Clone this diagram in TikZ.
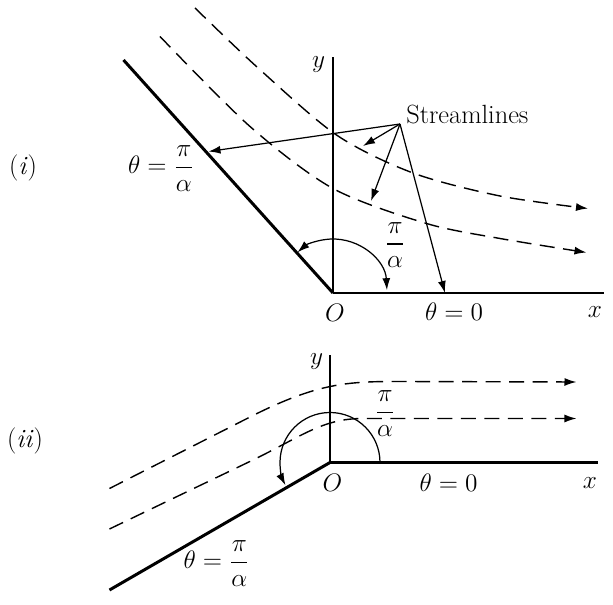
\documentclass[tikz,border=0pt]{standalone}
\usepackage{amsmath,amssymb}
\usepackage{tikz}
\usetikzlibrary{arrows.meta,positioning,calc}
\begin{document}
\begin{tikzpicture}[>={Latex[length=2.4mm,width=1.6mm]},font=\fontsize{15}{18}\selectfont,
  wall/.style={line width=1.7pt},
  thin/.style={line width=0.7pt},
  flow/.style={line width=0.8pt,dash pattern=on 3mm off 1.7mm,->},
  lbl/.style={inner sep=1pt}]
\useasboundingbox (-6.66,5.86) rectangle (5.6,-6.24);
% ---- (i): wedge of angle pi/alpha ----
\coordinate (O1) at (0,0);
\coordinate (X1) at (5.42,0);
\coordinate (Y1) at (0,4.72);
\coordinate (W1) at (-4.19,4.66);
\draw[thin] (O1) -- (Y1);
\draw[wall] (W1) -- (O1);
\draw[wall,line width=1.4pt] (O1) -- (X1);
\draw[flow] plot[smooth] coordinates {(-2.76,5.7) (-1.52,4.52) (0.07,3.16) (1.6,2.4) (3.34,1.94) (5.1,1.69)};
\draw[flow] plot[smooth] coordinates {(-3.46,5.13) (-1.66,3.33) (0,2.09) (1.87,1.39) (3.34,1.09) (5.07,0.81)};
\draw[thin,<->] ($(O1)+(3:1.08)$) arc[start angle=3,end angle=131,radius=1.08];
\node[lbl] (i) at (-6.2,2.5) {(\textit{i})};
\node[lbl] (y1) at (-0.29,4.56) {$y$};
\node[lbl] (o1) at (0.04,-0.4) {$O$};
\node[lbl] (zero1) at (2.42,-0.38) {$\theta=0$};
\node[lbl] (x1) at (5.24,-0.38) {$x$};
\node[lbl] (wedge1) at (-3.44,2.49) {$\theta=\dfrac{\pi}{\alpha}$};
\node[lbl] (ang1) at (1.24,0.96) {$\dfrac{\pi}{\alpha}$};
% streamline pointers
\coordinate (S) at (1.34,3.38);
\node[anchor=base west,inner sep=0pt] (stream) at (1.46,3.38) {Streamlines};
\coordinate (s1) at (-2.49,2.83);
\coordinate (s2) at (0.6,2.94);
\coordinate (s3) at (0.76,1.84);
\coordinate (s4) at (2.24,0);
\foreach \t in {s1,s2,s3,s4} \draw[thin,->] (S) -- (\t);
% ---- (ii): wedge opened past pi ----
\coordinate (O2) at (-0.06,-3.39);
\coordinate (X2) at (5.31,-3.39);
\coordinate (Y2) at (-0.06,-1.24);
\coordinate (W2) at (-4.47,-5.94);
\draw[thin] (O2) -- (Y2);
\draw[wall] (W2) -- (O2);
\draw[wall,line width=1.4pt] (O2) -- (X2);
\draw[flow] (-4.47,-3.91) -- (-1.6,-2.45) .. controls (-0.3,-1.8) and (0.3,-1.77) .. (1.3,-1.77) -- (4.87,-1.78);
\draw[flow] (-4.47,-4.72) -- (-1.6,-3.34) .. controls (-0.6,-2.85) and (-0.2,-2.51) .. (0.6,-2.51) -- (4.87,-2.51);
\draw[thin,->] ($(O2)+(0:1)$) arc[start angle=0,end angle=207,radius=1];
\node[lbl] (ii) at (-6.16,-2.96) {(\textit{ii})};
\node[lbl] (y2) at (-0.33,-1.37) {$y$};
\node[lbl] (o2) at (-0.01,-3.8) {$O$};
\node[lbl] (zero2) at (2.31,-3.8) {$\theta=0$};
\node[lbl] (x2) at (5.14,-3.8) {$x$};
\node[lbl] (wedge2) at (-2.33,-5.41) {$\theta=\dfrac{\pi}{\alpha}$};
\node[lbl] (ang2) at (1.04,-2.41) {$\dfrac{\pi}{\alpha}$};
\end{tikzpicture}
\end{document}
